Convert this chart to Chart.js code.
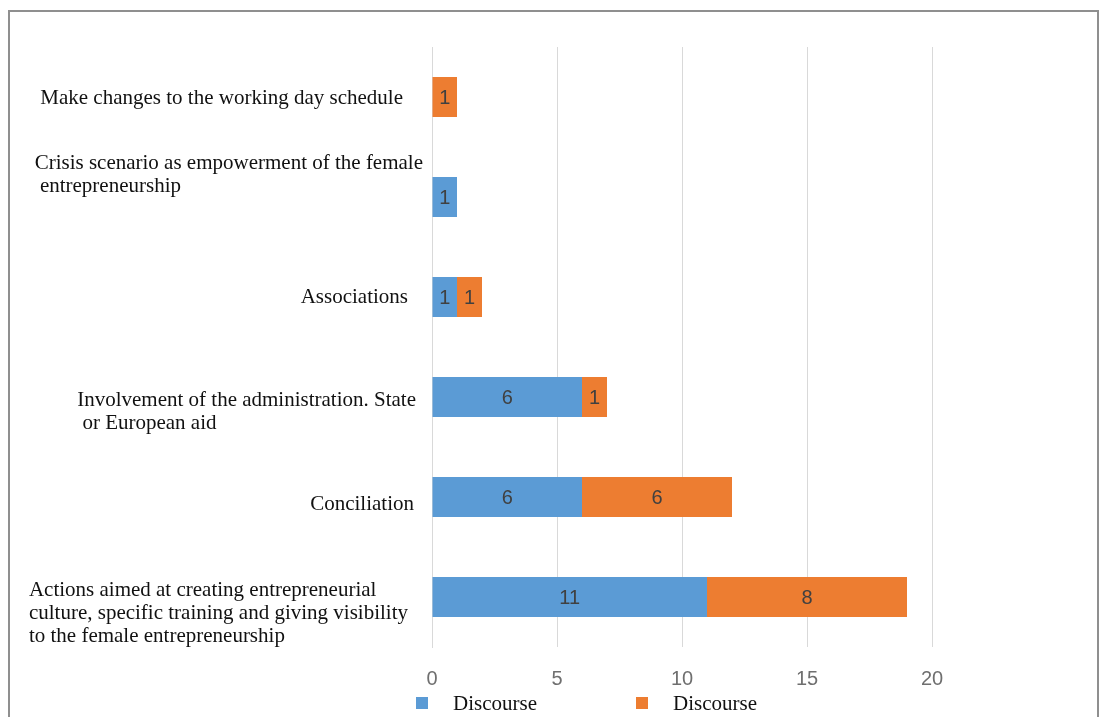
<!DOCTYPE html>
<html lang="en">
<head>
<meta charset="UTF-8">
<title>Discourse chart</title>
<script src="https://cdn.jsdelivr.net/npm/chart.js"></script>
<style>
  html, body { margin: 0; padding: 0; overflow: hidden; background: #fff; }
  #frame { position: absolute; left: 8px; top: 10px; width: 1087px; height: 740px;
           border: 2px solid #8f8f8f; border-bottom: none; }
  #chartCanvas { position: absolute; left: 0; top: 0; }
</style>
</head>
<body>
<div id="frame"></div>
<canvas id="chartCanvas" width="1105" height="717"></canvas>
<script>
// category labels (top to bottom), one entry per line
const categories = [
    ['Make changes to the working day schedule'],
    ['Crisis scenario as empowerment of the female', ' entrepreneurship'],
    ['Associations'],
    ['Involvement of the administration. State', ' or European aid'],
    ['Conciliation'],
    ['Actions aimed at creating entrepreneurial', 'culture, specific training and giving visibility', 'to the female entrepreneurship']
];
const seriesNames = ['Discourse', 'Discourse'];
const blueValues = [0, 1, 1, 6, 6, 11];
const orangeValues = [1, 0, 1, 1, 6, 8];
const xTicks = [0, 5, 10, 15, 20];

const labelFont = '21px "Liberation Serif", serif';

// value labels in the middle of each segment
const barLabels = {
    id: 'barLabels',
    afterDatasetsDraw(chart) {
        const ctx = chart.ctx;
        ctx.save();
        ctx.font = '20px "Liberation Sans", sans-serif';
        ctx.fillStyle = '#404040';
        ctx.textAlign = 'center';
        ctx.textBaseline = 'middle';
        chart.data.datasets.forEach((ds, i) => {
            chart.getDatasetMeta(i).data.forEach((bar, j) => {
                if (!ds.data[j]) return;
                const p = bar.getProps(['x', 'y', 'base'], true);
                ctx.fillText(ds.data[j], (p.x + p.base) / 2, p.y + 1);
            });
        });
        ctx.restore();
    }
};

// category text left of the axis, lines left aligned inside a block
const categoryText = {
    id: 'categoryText',
    afterDraw(chart, args, opts) {
        const ctx = chart.ctx;
        const yScale = chart.scales.y;
        ctx.save();
        ctx.font = labelFont;
        ctx.fillStyle = '#111';
        ctx.textAlign = 'left';
        ctx.textBaseline = 'middle';
        categories.forEach((lines, i) => {
            const w = Math.max(...lines.map(l => ctx.measureText(l).width));
            const left = opts.right + opts.nudge[i] - w;
            const cy = yScale.getPixelForValue(i) + opts.shift[i];
            const top = cy - (lines.length - 1) * opts.lineHeight / 2;
            lines.forEach((l, k) => ctx.fillText(l, left, top + k * opts.lineHeight));
        });
        ctx.restore();
    }
};

// legend drawn under the tick labels
const bottomLegend = {
    id: 'bottomLegend',
    afterDraw(chart, args, opts) {
        const ctx = chart.ctx;
        const area = chart.chartArea;
        ctx.save();
        ctx.font = labelFont;
        ctx.textBaseline = 'middle';
        chart.data.datasets.forEach((ds, i) => {
            const x = area.left + opts.offset + i * opts.step;
            ctx.fillStyle = ds.backgroundColor;
            ctx.fillRect(x, opts.y - 6, 12, 12);
            ctx.fillStyle = '#111';
            ctx.fillText(ds.label, x + 37, opts.y + 1);
        });
        ctx.restore();
    }
};

new Chart(document.getElementById('chartCanvas'), {
    type: 'bar',
    data: {
        labels: categories.map(c => c.join(' ')),
        datasets: [{
            label: seriesNames[0],
            data: blueValues,
            backgroundColor: '#5B9BD5',
            barPercentage: 0.8,
            categoryPercentage: 0.5
        }, {
            label: seriesNames[1],
            data: orangeValues,
            backgroundColor: '#ED7D31',
            barPercentage: 0.8,
            categoryPercentage: 0.5
        }]
    },
    options: {
        indexAxis: 'y',
        responsive: false,
        animation: false,
        layout: { padding: { left: 432, right: 173, top: 47, bottom: 6 } },
        scales: {
            x: {
                stacked: true,
                min: 0,
                max: 20,
                afterBuildTicks: axis => { axis.ticks = xTicks.map(v => ({ value: v })); },
                grid: { color: '#d9d9d9', drawTicks: false },
                border: { display: false },
                ticks: {
                    padding: 20,
                    color: '#6f6f6f',
                    font: { family: '"Liberation Sans", sans-serif', size: 20 }
                }
            },
            y: {
                stacked: true,
                afterFit: axis => { axis.width = 0; },
                grid: { display: false },
                border: { display: true, color: '#d9d9d9' },
                ticks: { display: false }
            }
        },
        plugins: {
            legend: { display: false },
            tooltip: { enabled: false },
            categoryText: {
                right: 414,
                lineHeight: 23,
                shift: [1, -22, 0, 15, 7, 16],
                nudge: [-11, 9, -6, 2, 0, -6]
            },
            bottomLegend: { offset: -16, step: 220, y: 703 }
        }
    },
    plugins: [barLabels, categoryText, bottomLegend]
});
</script>
</body>
</html>
